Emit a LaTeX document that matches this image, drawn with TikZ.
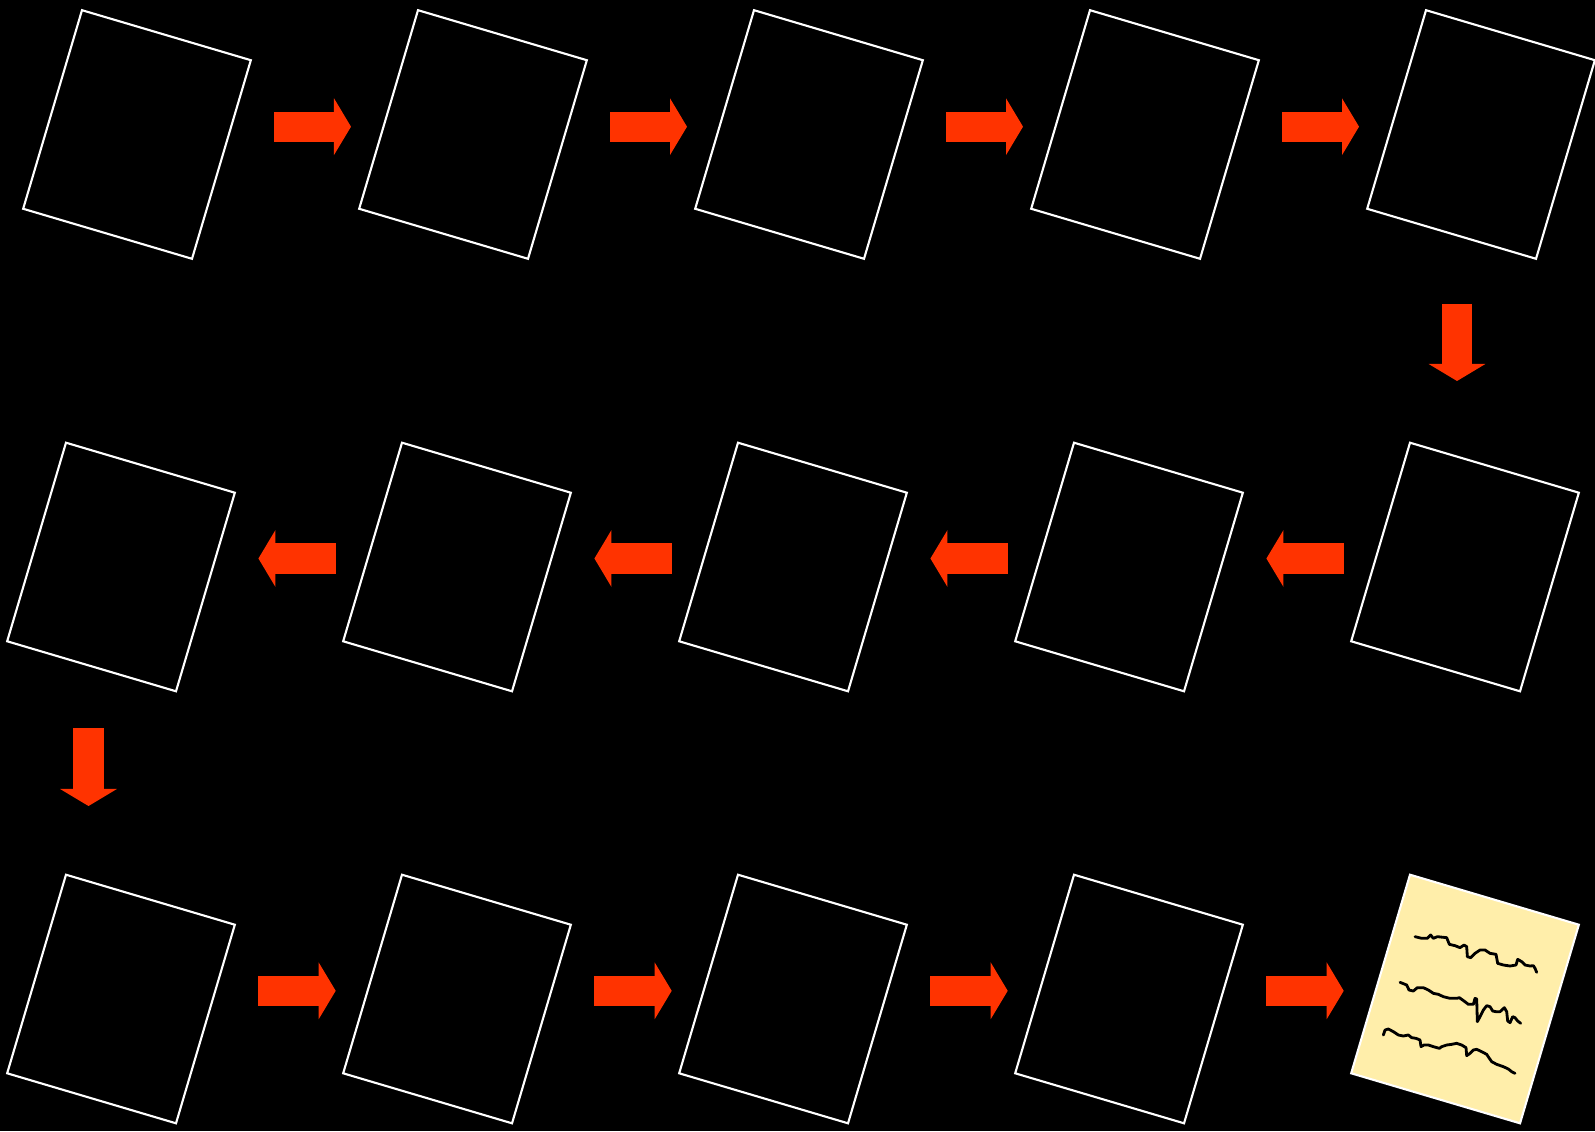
\documentclass[tikz,border=0pt]{standalone}
\usetikzlibrary{arrows.meta, calc}
\definecolor{arrowred}{HTML}{FF3300}
\definecolor{paper}{HTML}{FFEEAA}

\begin{document}
\begin{tikzpicture}[
    x=0.01cm, y=-0.01cm,
    sheet/.style={draw=white, line width=0.6pt, minimum width=1.76cm,
                  minimum height=2.07cm, rotate=-16.5, inner sep=0pt, outer sep=0pt},
    blockarrow/.style={draw=arrowred, line width=0.3cm,
                  -{Triangle[length=0.17cm, width=0.56cm]}},
    scribble/.style={black, line width=0.8pt, line join=round, line cap=round},
  ]

  % ══════════════════════════════════════════════════════
  % Background
  % ══════════════════════════════════════════════════════
  \fill[black] (0,0) rectangle (1595,1131);
  \useasboundingbox (0,0) rectangle (1595,1131);

  % ══════════════════════════════════════════════════════
  % Sheets (three rows, serpentine order)
  % ══════════════════════════════════════════════════════
  \foreach \i in {1,...,5}{
    \node[sheet] (s\i) at ({137+336*(\i-1)}, 134.5) {};
  }
  % row 2 runs right to left
  \foreach \i in {6,...,10}{
    \node[sheet] (s\i) at ({121+336*(10-\i)}, 567) {};
  }
  \foreach \i in {11,...,14}{
    \node[sheet] (s\i) at ({121+336*(\i-11)}, 999) {};
  }
  % last sheet: the written page
  \node[sheet, fill=paper] (s15) at (1465, 999) {};

  % ══════════════════════════════════════════════════════
  % Block arrows
  % ══════════════════════════════════════════════════════
  \foreach \k in {0,...,3}{
    \coordinate (ta\k) at ({274+336*\k}, 126.7);
    \coordinate (ha\k) at ({351+336*\k}, 126.7);
    \draw[blockarrow] (ta\k) -- (ha\k);
  }
  \foreach \k in {0,...,3}{
    \coordinate (tb\k) at ({335.7+336*\k}, 558.5);
    \coordinate (hb\k) at ({258.4+336*\k}, 558.5);
    \draw[blockarrow] (tb\k) -- (hb\k);
  }
  \foreach \k in {0,...,3}{
    \coordinate (tc\k) at ({258.4+336*\k}, 990.8);
    \coordinate (hc\k) at ({335.7+336*\k}, 990.8);
    \draw[blockarrow] (tc\k) -- (hc\k);
  }

  % down arrows at the row ends
  \coordinate (tdr) at (1457, 304);
  \coordinate (hdr) at (1457, 381);
  \draw[blockarrow] (tdr) -- (hdr);
  \coordinate (tdl) at (88.5, 728);
  \coordinate (hdl) at (88.5, 806);
  \draw[blockarrow] (tdl) -- (hdl);

  % ══════════════════════════════════════════════════════
  % Scribbled lines on the last sheet
  % ══════════════════════════════════════════════════════
  \begin{scope}[shift={(1340,865)}, scale=1/3]
    \draw[scribble] (225,215) -- (245,220) -- (262,220) -- (272,210) -- (280,220)
      -- (292,215) -- (320,218) -- (328,238) -- (345,242) -- (360,248) -- (372,240)
      -- (380,245) -- (382,275) -- (392,278) -- (405,265) -- (420,255) -- (435,255)
      -- (450,265) -- (468,268) -- (473,295) -- (490,300) -- (510,303) -- (528,300)
      -- (533,283) -- (545,290) -- (555,300) -- (570,303) -- (580,302) -- (585,310)
      -- (590,322);
    \draw[scribble] (180,352) -- (200,360) -- (207,375) -- (220,378) -- (232,368)
      -- (250,368) -- (265,375) -- (280,385) -- (295,388) -- (310,395) -- (330,400)
      -- (350,400) -- (358,398) -- (372,408) -- (385,418) -- (400,418) -- (405,400)
      -- (410,402) -- (412,470) -- (420,455) -- (430,435) -- (440,422) -- (450,425)
      -- (458,438) -- (468,440) -- (480,440) -- (493,428) -- (500,440) -- (503,468)
      -- (510,473) -- (518,455) -- (525,458) -- (533,468) -- (542,475);
    \draw[scribble] (130,510) -- (135,495) -- (145,492) -- (160,500) -- (175,510)
      -- (190,513) -- (205,510) -- (215,518) -- (228,520) -- (240,525) -- (243,545)
      -- (252,540) -- (265,540) -- (280,545) -- (298,550) -- (305,545) -- (320,540)
      -- (335,538) -- (350,535) -- (365,540) -- (378,548) -- (380,572) -- (390,565)
      -- (400,555) -- (410,553) -- (425,560) -- (440,568) -- (448,580) -- (455,590)
      -- (470,598) -- (490,605) -- (505,612) -- (515,620) -- (525,625);
  \end{scope}

\end{tikzpicture}
\end{document}
